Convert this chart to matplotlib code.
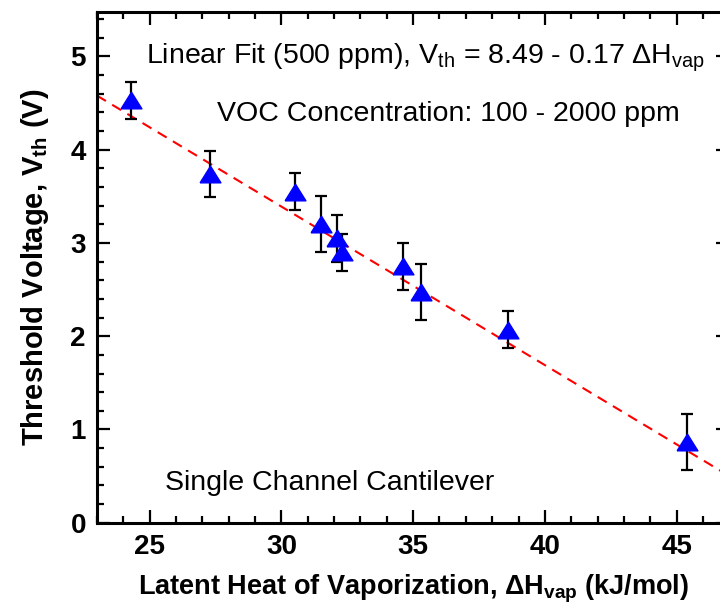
import matplotlib
matplotlib.use('Agg')
import matplotlib.pyplot as plt
import numpy as np

plt.rcParams['font.family'] = ['Liberation Sans', 'DejaVu Sans']
plt.rcParams['mathtext.fontset'] = 'custom'
plt.rcParams['mathtext.rm'] = 'Liberation Sans'
plt.rcParams['mathtext.it'] = 'Liberation Sans:italic'
plt.rcParams['mathtext.bf'] = 'Liberation Sans:bold'

# data
dh_vap = [24.3, 27.3, 30.5, 31.5, 32.1, 32.3, 34.6, 35.3, 38.6, 45.4]
v_th = [4.53, 3.74, 3.55, 3.20, 3.05, 2.90, 2.75, 2.47, 2.07, 0.87]
v_err = [0.20, 0.25, 0.20, 0.30, 0.25, 0.20, 0.25, 0.30, 0.20, 0.30]

# linear fit quoted on the chart
fit_a = 8.49
fit_b = 0.17

fig = plt.figure(figsize=(7.2, 6.12), dpi=100)
ax = fig.add_axes([97/720, 89.3/612, 632.3/720, 511/612])

xs = np.array([23, 47])
ax.plot(xs, fit_a - fit_b*xs, color='red', linestyle='--', lw=1.5, dashes=(5, 3.5), zorder=2)

tri = [(-1, -0.8), (1, -0.8), (0, 0.8), (-1, -0.8)]
ax.errorbar(dh_vap, v_th, yerr=v_err, fmt='none', ecolor='black', elinewidth=1.6,
            capsize=4.5, capthick=1.6, zorder=3)
ax.plot(dh_vap, v_th, linestyle='none', marker=tri, markersize=15,
        color=(0, 0, 1), zorder=4)

ax.set_xlim(23, 47)
ax.set_ylim(0, 5.48)
ax.set_xticks([25, 30, 35, 40, 45])
ax.set_xticks(np.arange(23, 48, 1), minor=True)
ax.set_yticks([0, 1, 2, 3, 4, 5])
ax.set_yticks(np.arange(0, 5.5, 0.2), minor=True)

for s in ax.spines.values():
    s.set_linewidth(2.2)
ax.tick_params(which='both', direction='in', top=True, right=True, width=1.6)
ax.tick_params(which='major', length=9.5, labelsize=20, pad=8)
ax.tick_params(which='minor', length=5)
for lab in ax.get_xticklabels() + ax.get_yticklabels():
    lab.set_fontweight('bold')

ax.set_xlabel(r'Latent Heat of Vaporization, $\mathbf{\Delta H_{vap}}$ (kJ/mol)',
              fontsize=19.5, fontweight='bold', labelpad=9)
ax.set_ylabel(r'Threshold Voltage, $\mathbf{V_{th}}$ (V)',
              fontsize=21, fontweight='bold', labelpad=14)

ax.text(0.519, 0.909, r'Linear Fit (500 ppm), V$_{\mathrm{th}}$ = 8.49 - 0.17 $\Delta$H$_{\mathrm{vap}}$',
        transform=ax.transAxes, fontsize=20.5, ha='center', va='center')
ax.text(0.555, 0.80, 'VOC Concentration: 100 - 2000 ppm',
        transform=ax.transAxes, fontsize=20.5, ha='center', va='center')
ax.text(0.107, 0.078, 'Single Channel Cantilever',
        transform=ax.transAxes, fontsize=20.5, ha='left', va='center')

fig.savefig('out.png', dpi=100)
